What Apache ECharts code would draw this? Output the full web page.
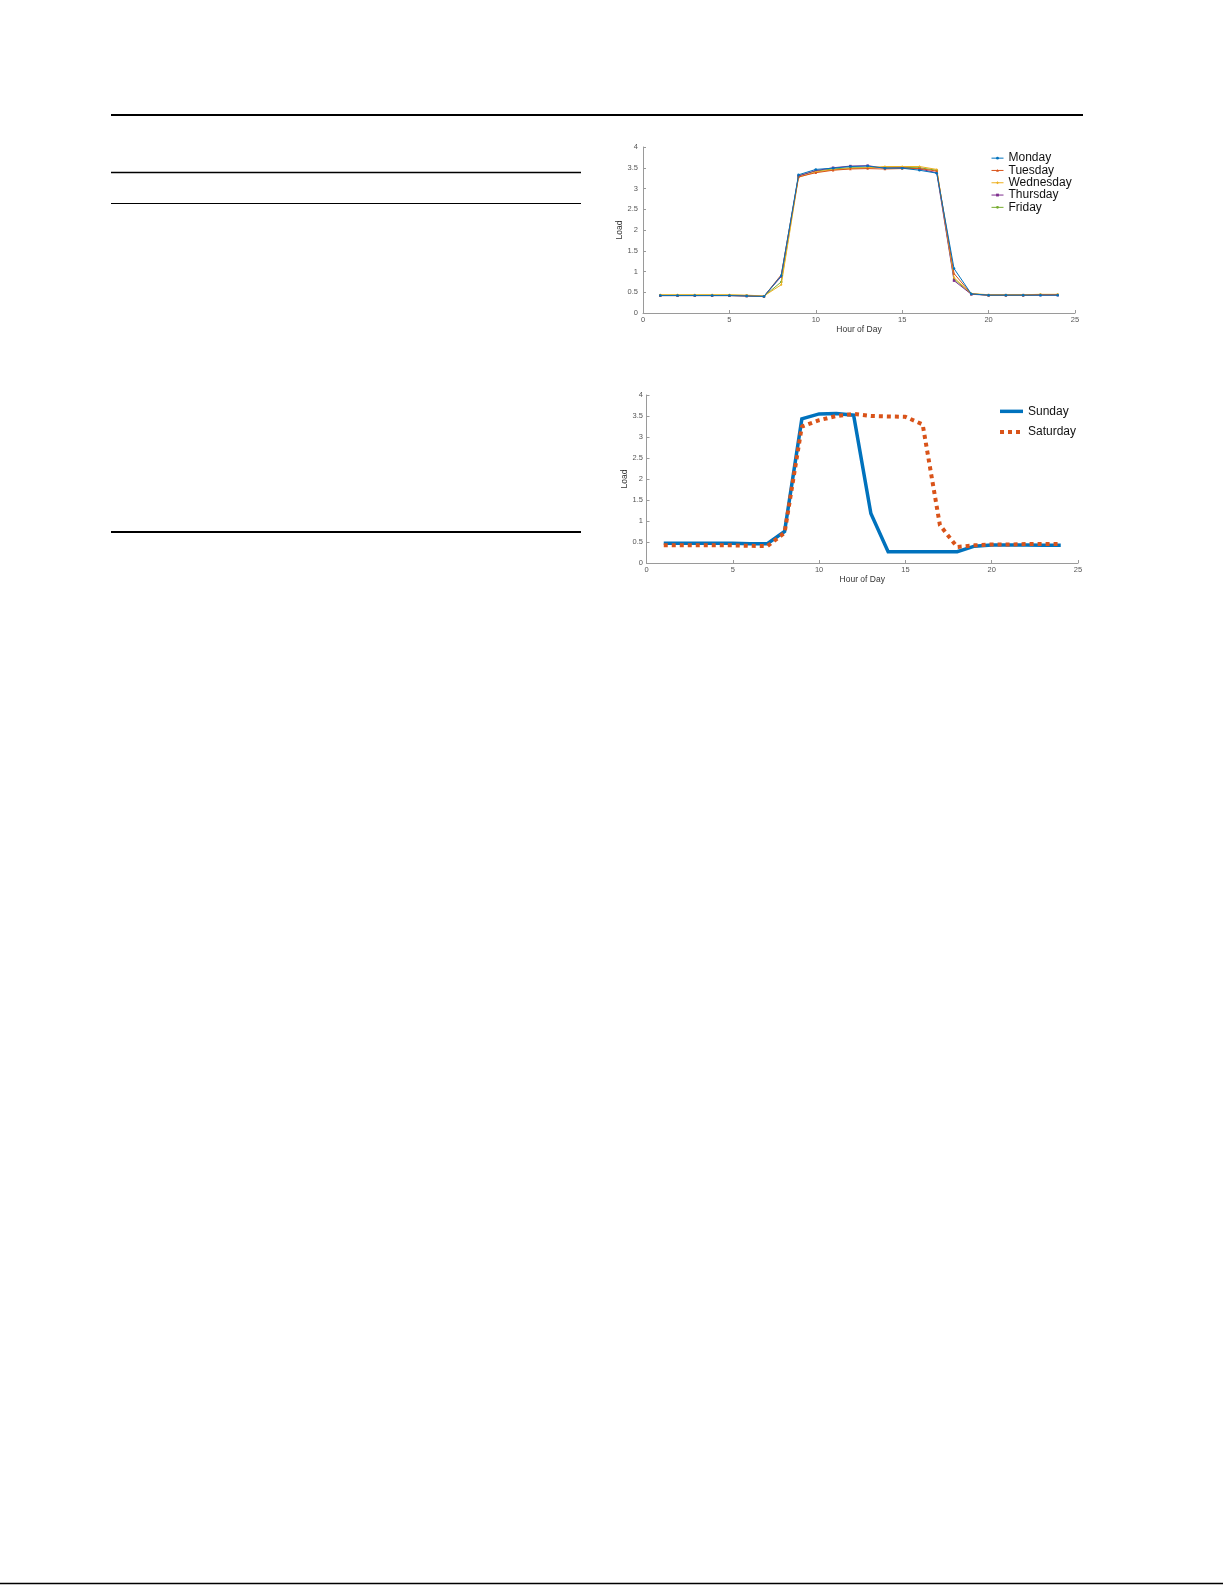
<!DOCTYPE html>
<html>
<head>
<meta charset="utf-8">
<script src="https://cdn.jsdelivr.net/npm/echarts@6/dist/echarts.min.js"></script>
<style>
html,body{margin:0;padding:0;background:#fff;}
#c{width:1225px;height:1585px;}
</style>
</head>
<body>
<div id="c"></div>
<script>
// ---- data ----
const hours = [1,2,3,4,5,6,7,8,9,10,11,12,13,14,15,16,17,18,19,20,21,22,23,24];
const xTicks = [0,5,10,15,20,25];
const yTicks = [0,0.5,1,1.5,2,2.5,3,3.5,4];

const monday    = [0.42,0.42,0.42,0.42,0.42,0.41,0.40,0.90,3.33,3.46,3.49,3.53,3.54,3.49,3.49,3.44,3.37,1.07,0.46,0.43,0.43,0.43,0.43,0.43];
const tuesday   = [0.42,0.42,0.42,0.42,0.42,0.41,0.40,0.92,3.28,3.38,3.44,3.47,3.48,3.47,3.48,3.48,3.42,0.95,0.46,0.43,0.43,0.43,0.44,0.44];
const wednesday = [0.44,0.44,0.44,0.44,0.44,0.43,0.41,0.68,3.27,3.40,3.45,3.48,3.50,3.53,3.53,3.53,3.46,0.85,0.47,0.44,0.44,0.44,0.45,0.45];
const thursday  = [0.42,0.42,0.42,0.42,0.42,0.41,0.40,0.88,3.30,3.43,3.50,3.54,3.55,3.49,3.50,3.47,3.38,0.78,0.45,0.43,0.43,0.43,0.43,0.43];
const friday    = [0.43,0.43,0.43,0.43,0.43,0.42,0.40,0.75,3.31,3.42,3.47,3.50,3.50,3.51,3.51,3.50,3.44,0.82,0.46,0.43,0.43,0.43,0.44,0.44];

const sunday    = [0.47,0.47,0.47,0.47,0.47,0.46,0.46,0.75,3.43,3.55,3.56,3.52,1.18,0.27,0.27,0.27,0.27,0.27,0.40,0.43,0.43,0.43,0.42,0.42];
const saturday  = [0.42,0.42,0.42,0.42,0.42,0.41,0.40,0.72,3.25,3.40,3.50,3.55,3.50,3.49,3.48,3.30,0.90,0.38,0.42,0.44,0.44,0.45,0.45,0.45];

const weekdayNames = ['Monday','Tuesday','Wednesday','Thursday','Friday'];
const weekendNames = ['Sunday','Saturday'];
const weekdayData = [monday, tuesday, wednesday, thursday, friday];
const weekdayColors = ['#0072BD','#D95319','#EDB120','#7E2F8E','#77AC30'];
const weekdaySymbols = ['circle','triangle','diamond','rect','circle'];

function pairs(arr){ return hours.map((h,i)=>[h,arr[i]]); }

const FONT = 'Liberation Sans, Arial, Helvetica, sans-serif';
const axisGrey = '#9a9a9a';
const labelGrey = '#555';

function xAxis(gridIndex){
  return {
    type:'value', gridIndex, min:xTicks[0], max:xTicks[xTicks.length-1], interval:5,
    name:'Hour of Day', nameLocation:'middle', nameGap:10.5,
    nameTextStyle:{fontFamily:FONT,fontSize:8.5,color:'#333'},
    axisLine:{show:true,lineStyle:{color:axisGrey,width:1}},
    axisTick:{show:true,inside:true,length:3,lineStyle:{color:axisGrey}},
    axisLabel:{fontFamily:FONT,fontSize:7.5,color:labelGrey,margin:3},
    splitLine:{show:false}
  };
}
function yAxis(gridIndex,gap,lm){
  return {
    type:'value', gridIndex, min:yTicks[0], max:yTicks[yTicks.length-1], interval:0.5,
    name:'Load', nameLocation:'middle', nameGap:gap, nameRotate:90,
    nameTextStyle:{fontFamily:FONT,fontSize:8.5,color:'#333'},
    axisLine:{show:true,lineStyle:{color:axisGrey,width:1}},
    axisTick:{show:true,inside:true,length:3,lineStyle:{color:axisGrey}},
    axisLabel:{fontFamily:FONT,fontSize:7.5,color:labelGrey,margin:lm},
    splitLine:{show:false}
  };
}

const series = [];
weekdayNames.forEach((n,i)=>{
  series.push({
    name:n, type:'line', xAxisIndex:0, yAxisIndex:0,
    data:pairs(weekdayData[i]),
    symbol:weekdaySymbols[i], symbolSize:2.5, showSymbol:true,
    lineStyle:{color:weekdayColors[i],width:1},
    itemStyle:{color:weekdayColors[i]},
    animation:false, z:10-i
  });
});
series.push({
  name:weekendNames[0], type:'line', xAxisIndex:1, yAxisIndex:1,
  data:pairs(sunday), symbol:'none',
  lineStyle:{color:'#0072BD',width:3.5,join:'miter'},
  itemStyle:{color:'#0072BD'},
  animation:false
});
series.push({
  name:weekendNames[1], type:'line', xAxisIndex:1, yAxisIndex:1,
  data:pairs(saturday), symbol:'none',
  lineStyle:{color:'#D95319',width:4,type:[4,4],cap:'butt'},
  itemStyle:{color:'#D95319'},
  animation:false
});

const pageLines = [
  {x1:111,y1:115,x2:1083,y2:115,w:2},
  {x1:111,y1:172.5,x2:581,y2:172.5,w:1.7},
  {x1:111,y1:203.5,x2:581,y2:203.5,w:1},
  {x1:111,y1:532,x2:581,y2:532,w:2},
  {x1:0,y1:1583.5,x2:1223,y2:1583.5,w:1.5}
];

const chart = echarts.init(document.getElementById('c'),null,{renderer:'canvas'});
chart.setOption({
  backgroundColor:'#fff',
  animation:false,
  grid:[
    {left:643,top:147,width:432,height:166},
    {left:646.5,top:395,width:431.5,height:168}
  ],
  xAxis:[xAxis(0),xAxis(1)],
  yAxis:[yAxis(0,17,5),yAxis(1,14.5,3.5)],
  legend:[
    {
      data:weekdayNames, orient:'vertical', left:991, top:152,
      padding:0, itemGap:0, itemWidth:12, itemHeight:3.5,
      lineStyle:{width:1},
      textStyle:{fontFamily:FONT,fontSize:12,color:'#111',lineHeight:12.3,height:12.3},
      selectedMode:false
    },
    {
      data:[
        {name:weekendNames[0], lineStyle:{width:3.5,type:'solid'}},
        {name:weekendNames[1], lineStyle:{width:4,type:[4,4],cap:'butt'}}
      ],
      orient:'vertical', left:998, top:401,
      padding:0, itemGap:0, itemWidth:23, itemHeight:1,
      lineStyle:{width:'inherit'},
      textStyle:{fontFamily:FONT,fontSize:12,color:'#111',lineHeight:20.7,height:20.7},
      selectedMode:false
    }
  ],
  graphic: pageLines.map(l=>({
    type:'line', silent:true,
    shape:{x1:l.x1,y1:l.y1,x2:l.x2,y2:l.y2},
    style:{stroke:'#000',lineWidth:l.w}
  })),
  series
});
</script>
</body>
</html>
